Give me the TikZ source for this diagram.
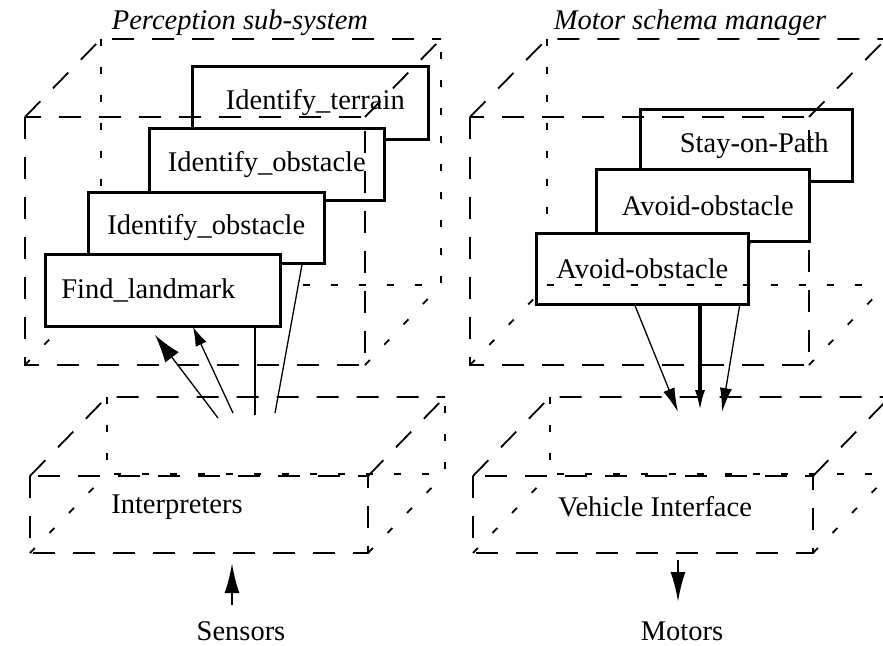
\documentclass[tikz,border=0pt]{standalone}
\usepackage{fontspec}
\setmainfont{Liberation Serif}
\usetikzlibrary{arrows.meta}
\begin{document}
\begin{tikzpicture}[x=1pt,y=-1pt,
  vis/.style={line width=1.8pt, dash pattern=on 22pt off 18pt},
  hid/.style={line width=1.8pt, dash pattern=on 7pt off 21pt},
  schema/.style={draw, fill=white, line width=2.6pt, inner sep=0pt, anchor=north west,
    font=\fontsize{28.5}{32}\selectfont},
  lbl/.style={inner sep=0pt, font=\fontsize{28.5}{32}\selectfont},
  ttl/.style={inner sep=0pt, font=\fontsize{28.5}{32}\selectfont\itshape},
  conn/.style={line width=1.3pt},
]
\fill[white] (0,0) rectangle (883,645);
\useasboundingbox (0,0) rectangle (883,645);
\clip (0,0) rectangle (883,645);

% ---------- titles ----------
\node[ttl] (ptitle) at (240,23) {Perception sub-system};
\node[ttl] (mtitle) at (690,23) {Motor schema manager};

% ---------- perception frame: hidden edges ----------
\draw[hid] (101,39) -- (101,285) -- (441,285) -- (441,39);
\draw[hid] (25,365) -- (101,285);
\draw[hid] (365,365) -- (441,285);

% ---------- perception schemas ----------
\node[schema, minimum width=236pt, minimum height=73pt] (terrain) at (191,65) {\hspace*{10pt}Identify\_terrain};
\node[schema, minimum width=235pt, minimum height=72pt] (obst2) at (148,127) {Identify\_obstacle};
\node[schema, minimum width=236pt, minimum height=71pt] (obst1) at (87,191) {Identify\_obstacle};
\node[schema, minimum width=235pt, minimum height=72pt, text width=203pt, align=left, inner xsep=16pt] (find) at (44,253) {Find\_landmark};

% ---------- perception frame: visible edges ----------
\draw[vis] (25,117) rectangle (365,365);
\draw[vis] (25,117) -- (101,39) -- (441,39);
\draw[vis] (365,117) -- (441,39);

% ---------- motor frame: hidden edges (behind) ----------
\draw[hid] (547,39) -- (547,285);
\draw[hid] (470,365) -- (547,285);
\draw[hid] (809,365) -- (886,285);

% ---------- motor schemas ----------
\coordinate (c3top) at (750,240);
\coordinate (c3tip) at (722,412);
\node[schema, minimum width=212pt, minimum height=72pt] (stay) at (639,108) {\hspace*{16pt}Stay-on-Path};
\node[schema, minimum width=213pt, minimum height=72pt] (avoid2) at (595,168) {\hspace*{10pt}Avoid-obstacle};
\draw[conn, -{Latex[length=24pt,width=12pt]}] (avoid2.south -| c3top) -- (c3tip);
\node[schema, minimum width=212pt, minimum height=71pt] (avoid1) at (535,232) {Avoid-obstacle};

% ---------- motor frame: visible edges ----------
\draw[hid] (547,285) -- (886,285);
\draw[vis] (470,117) rectangle (809,365);
\draw[vis] (470,117) -- (547,39) -- (886,39);
\draw[vis] (809,117) -- (886,39);

% ---------- interpreters frame ----------
\draw[hid] (107,397) -- (107,474) -- (445,474) -- (445,397);
\draw[hid] (30,553) -- (107,474);
\draw[hid] (368,553) -- (445,474);
\draw[vis] (30,476) rectangle (368,553);
\draw[vis] (30,476) -- (107,397) -- (445,397);
\draw[vis] (368,476) -- (445,397);
\node[lbl] (interp) at (177,507) {Interpreters};

% ---------- vehicle interface frame ----------
\draw[hid] (550,397) -- (550,474) -- (890,474);
\draw[hid] (473,553) -- (550,474);
\draw[hid] (813,553) -- (890,474);
\draw[vis] (473,476) rectangle (813,553);
\draw[vis] (473,476) -- (550,397) -- (890,397);
\draw[vis] (813,476) -- (890,397);
\node[lbl] (vehicle) at (655,507) {Vehicle Interface};

% ---------- perception connectors ----------
\coordinate (p1) at (218,418); \coordinate (p1tip) at (155,335);
\coordinate (p2) at (233,413); \coordinate (p2tip) at (193,327);
\coordinate (p3) at (255,415);
\coordinate (p4) at (275,413); \coordinate (p4top) at (302,262);
\draw[conn, -{Latex[length=28pt,width=17pt]}] (p1) -- (p1tip);
\draw[conn, -{Latex[length=19pt,width=12pt]}] (p2) -- (p2tip);
\draw[conn] (find.south -| p3) -- (p3);
\draw[conn] (obst1.south -| p4top) -- (p4);

% ---------- motor connectors ----------
\coordinate (m1) at (635,303); \coordinate (m1tip) at (678,412);
\coordinate (m2) at (700,303); \coordinate (m2tip) at (700,412);
\draw[conn, -{Latex[length=24pt,width=12pt]}] (avoid1.south -| m1) -- (m1tip);
\draw[line width=3.5pt, -{Latex[length=22pt,width=10pt]}] (avoid1.south -| m2) -- (m2tip);

% ---------- sensors and motors ----------
\node[lbl] (sensors) at (241,631) {Sensors};
\node[lbl] (motors) at (682,631) {Motors};
\coordinate (sin) at (232,605); \coordinate (sintip) at (232,563);
\coordinate (mout) at (678,560); \coordinate (mouttip) at (678,602);
\draw[line width=2.5pt, -{Latex[length=30pt,width=15pt]}] (sin) -- (sintip);
\draw[line width=2.5pt, -{Latex[length=30pt,width=15pt]}] (mout) -- (mouttip);
\end{tikzpicture}
\end{document}
